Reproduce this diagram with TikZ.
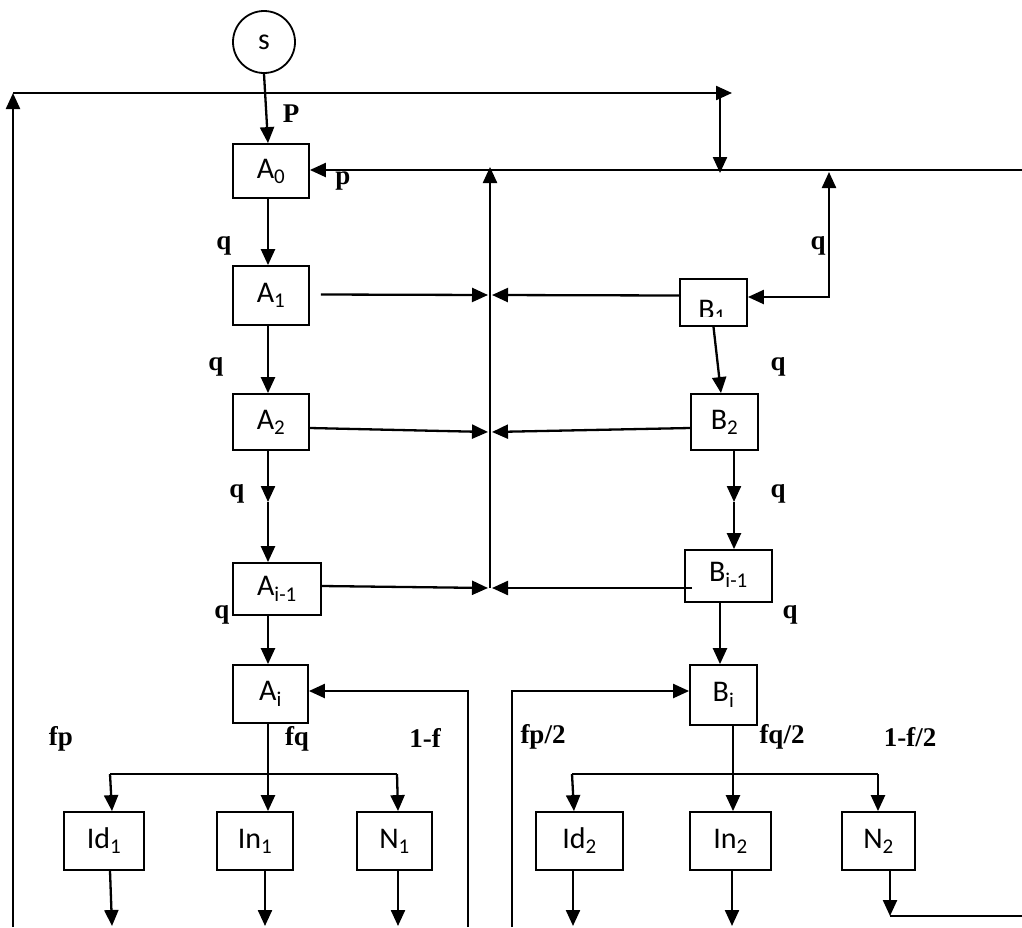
\documentclass[tikz,border=0pt]{standalone}
\usepackage{fontspec}
\setmainfont{Liberation Serif}
\newfontfamily\boxfont{Carlito}
\usetikzlibrary{arrows.meta,calc}
\begin{document}
\begin{tikzpicture}[x=1pt,y=-1pt,
  box/.style={draw,line width=1.8pt,inner sep=0pt,font=\boxfont\fontsize{30}{32}\selectfont},
  btext/.style={inner sep=0pt,font=\boxfont\fontsize{30}{32}\selectfont},
  lab/.style={inner sep=0pt,font=\bfseries\fontsize{27}{29}\selectfont},
  ln/.style={line width=2.3pt},
  arr/.style={ln,-{Triangle[length=16pt,width=14pt]}},
  darr/.style={ln,{Triangle[length=16pt,width=14pt]}-{Triangle[length=16pt,width=14pt]}},
  ]
\useasboundingbox (0,0) rectangle (1022,927);

% ---------- nodes ----------
\node[draw,circle,line width=1.8pt,minimum size=62pt,inner sep=0pt,font=\boxfont\fontsize{30}{32}\selectfont] (s) at (264,42) {s};

\node[box,minimum width=76pt,minimum height=54pt] (A0) at (271,171) {A\textsubscript{0}};
\node[box,minimum width=76pt,minimum height=59pt] (A1) at (271,295.5) {A\textsubscript{1}};
\node[box,minimum width=76pt,minimum height=56pt] (A2) at (271,422) {A\textsubscript{2}};
\node[box,minimum width=88pt,minimum height=52pt] (Aim) at (277,589) {A\textsubscript{i-1}};
\node[box,minimum width=75pt,minimum height=58pt] (Ai) at (270.5,694) {A\textsubscript{i}};

\node[box,minimum width=67pt,minimum height=47pt] (B1) at (713.5,302.5) {};
\begin{scope}
  \clip (680,279) rectangle (747,316);
  \node[btext,anchor=base] (B1t) at (712,319) {B\textsubscript{1}};
\end{scope}
\node[box,minimum width=67pt,minimum height=56pt] (B2) at (724.5,422) {B\textsubscript{2}};
\node[box,minimum width=87pt,minimum height=52pt,text depth=8pt] (Bim) at (728.5,576) {B\textsubscript{i-1}};
\node[box,minimum width=67pt,minimum height=60pt] (Bi) at (723.5,695) {B\textsubscript{i}};

\node[box,minimum width=80pt,minimum height=58pt] (Id1) at (104,841) {Id\textsubscript{1}};
\node[box,minimum width=76pt,minimum height=58pt] (In1) at (255,841) {In\textsubscript{1}};
\node[box,minimum width=75pt,minimum height=58pt] (N1) at (394.5,841) {N\textsubscript{1}};
\node[box,minimum width=87pt,minimum height=58pt] (Id2) at (579.5,841) {Id\textsubscript{2}};
\node[box,minimum width=81pt,minimum height=58pt] (In2) at (730.5,841) {In\textsubscript{2}};
\node[box,minimum width=73pt,minimum height=58pt] (N2) at (878.5,841) {N\textsubscript{2}};

% ---------- labels ----------
\node[lab] (lP) at (291,114) {P};
\node[lab] (lp) at (343,181) {p};
\node[lab] (lq1) at (224,246) {q};
\node[lab] (lq2) at (818,246) {q};
\node[lab] (lq3) at (216,367) {q};
\node[lab] (lq4) at (778,367) {q};
\node[lab] (lq5) at (237,494) {q};
\node[lab] (lq6) at (778,494) {q};
\node[lab] (lq7) at (222,615) {q};
\node[lab] (lq8) at (790,615) {q};
\node[lab] (lfp) at (61,739) {fp};
\node[lab] (lfq) at (297,739) {fq};
\node[lab] (l1f) at (425,738) {1-f};
\node[lab] (lfp2) at (543,737) {fp/2};
\node[lab] (lfq2) at (782,737) {fq/2};
\node[lab] (l1f2) at (910,737) {1-f/2};

% ---------- coordinates ----------
\coordinate (BL) at (13,927);
\coordinate (TL) at (13,93);
\coordinate (TR) at (732,93);
\coordinate (TD) at (720,93);
\coordinate (TDe) at (720,173);
\coordinate (RE) at (1022,170);
\coordinate (Cbot) at (490,588);
\coordinate (Ctop) at (490,167);
\coordinate (Qtop) at (829,172);
\coordinate (Qcor) at (829,297);
\coordinate (AF) at (468,927);
\coordinate (AFc) at (468,691);
\coordinate (BF) at (512,927);
\coordinate (BFc) at (512,691);
\coordinate (Amid) at (268,502);
\coordinate (Bmid) at (734,502);

% ---------- connectors ----------
\draw[arr] (s.south) -- ($(A0.north)+(-3,0)$);
\draw[arr] (BL) -- (TL);
\draw[arr] (TL) -- (TR);
\draw[arr] (TD) -- (TDe);
\draw[arr] (RE) -- ($(A0.east)+(0,-1)$);
\draw[arr] (Cbot) -- (Ctop);
\draw[darr] (Qtop) -- (Qcor) -- ($(B1.east)+(0,-5.5)$);

\draw[arr] ($(A0.south)+(-3,0)$) -- ($(A1.north)+(-3,0)$);
\draw[arr] ($(A1.south)+(-3,0)$) -- ($(A2.north)+(-3,0)$);
\draw[arr] (B1.south) -- ($(B2.north)+(-3.5,0)$);

\draw[arr] ($(A1.east)+(11,-1)$) -- (488,295);
\draw[arr] ($(B1.west)+(0,-7)$) -- (492,295);
\draw[arr] ($(A2.east)+(0,6)$) -- (488,432);
\draw[arr] ($(B2.west)+(0,6)$) -- (492,432);
\draw[arr] ($(Aim.east)+(0,-3)$) -- (488,588);
\draw[arr] ($(Bim.west)+(8,12)$) -- (492,588);

\draw[arr] ($(A2.south)+(-3,0)$) -- (Amid);
\draw[arr] (Amid) -- ($(Aim.north)+(-9,0)$);
\draw[arr] ($(B2.south)+(9.5,0)$) -- (Bmid);
\draw[arr] (Bmid) -- ($(Bim.north)+(5.5,0)$);

\draw[arr] ($(Aim.south)+(-9,0)$) -- ($(Ai.north)+(-2.5,0)$);
\draw[arr] ($(Bim.south)+(-8.5,0)$) -- ($(Bi.north)+(-3.5,0)$);

\draw[arr] (AF) -- (AFc) -- ($(Ai.east)+(0,-3)$);
\draw[arr] (BF) -- (BFc) -- ($(Bi.west)+(0,-4)$);

% A_i branch
\draw[arr] ($(Ai.south)+(-2.5,0)$) -- ($(In1.north)+(13,0)$);
\draw[ln] (110,774) -- (397,774);
\draw[arr] (110,774) -- ($(Id1.north)+(8,0)$);
\draw[arr] (397,774) -- ($(N1.north)+(3.5,0)$);
\draw[arr] ($(Id1.south)+(6,0)$) -- (112,926);
\draw[arr] ($(In1.south)+(10,0)$) -- (265,926);
\draw[arr] ($(N1.south)+(3.5,0)$) -- (398,926);

% B_i branch
\draw[arr] ($(Bi.south)+(9.5,0)$) -- ($(In2.north)+(2.5,0)$);
\draw[ln] (572,774) -- (878,774);
\draw[arr] (572,774) -- ($(Id2.north)+(-5.5,0)$);
\draw[arr] (878,774) -- ($(N2.north)+(-0.5,0)$);
\draw[arr] ($(Id2.south)+(-6.5,0)$) -- (573,926);
\draw[arr] ($(In2.south)+(1.5,0)$) -- (732,926);
\coordinate (N2d) at (890,916);
\coordinate (N2r) at (1022,916);
\draw[arr] ($(N2.south)+(11.5,0)$) -- (N2d);
\draw[ln] (N2d) -- (N2r);
\end{tikzpicture}
\end{document}
